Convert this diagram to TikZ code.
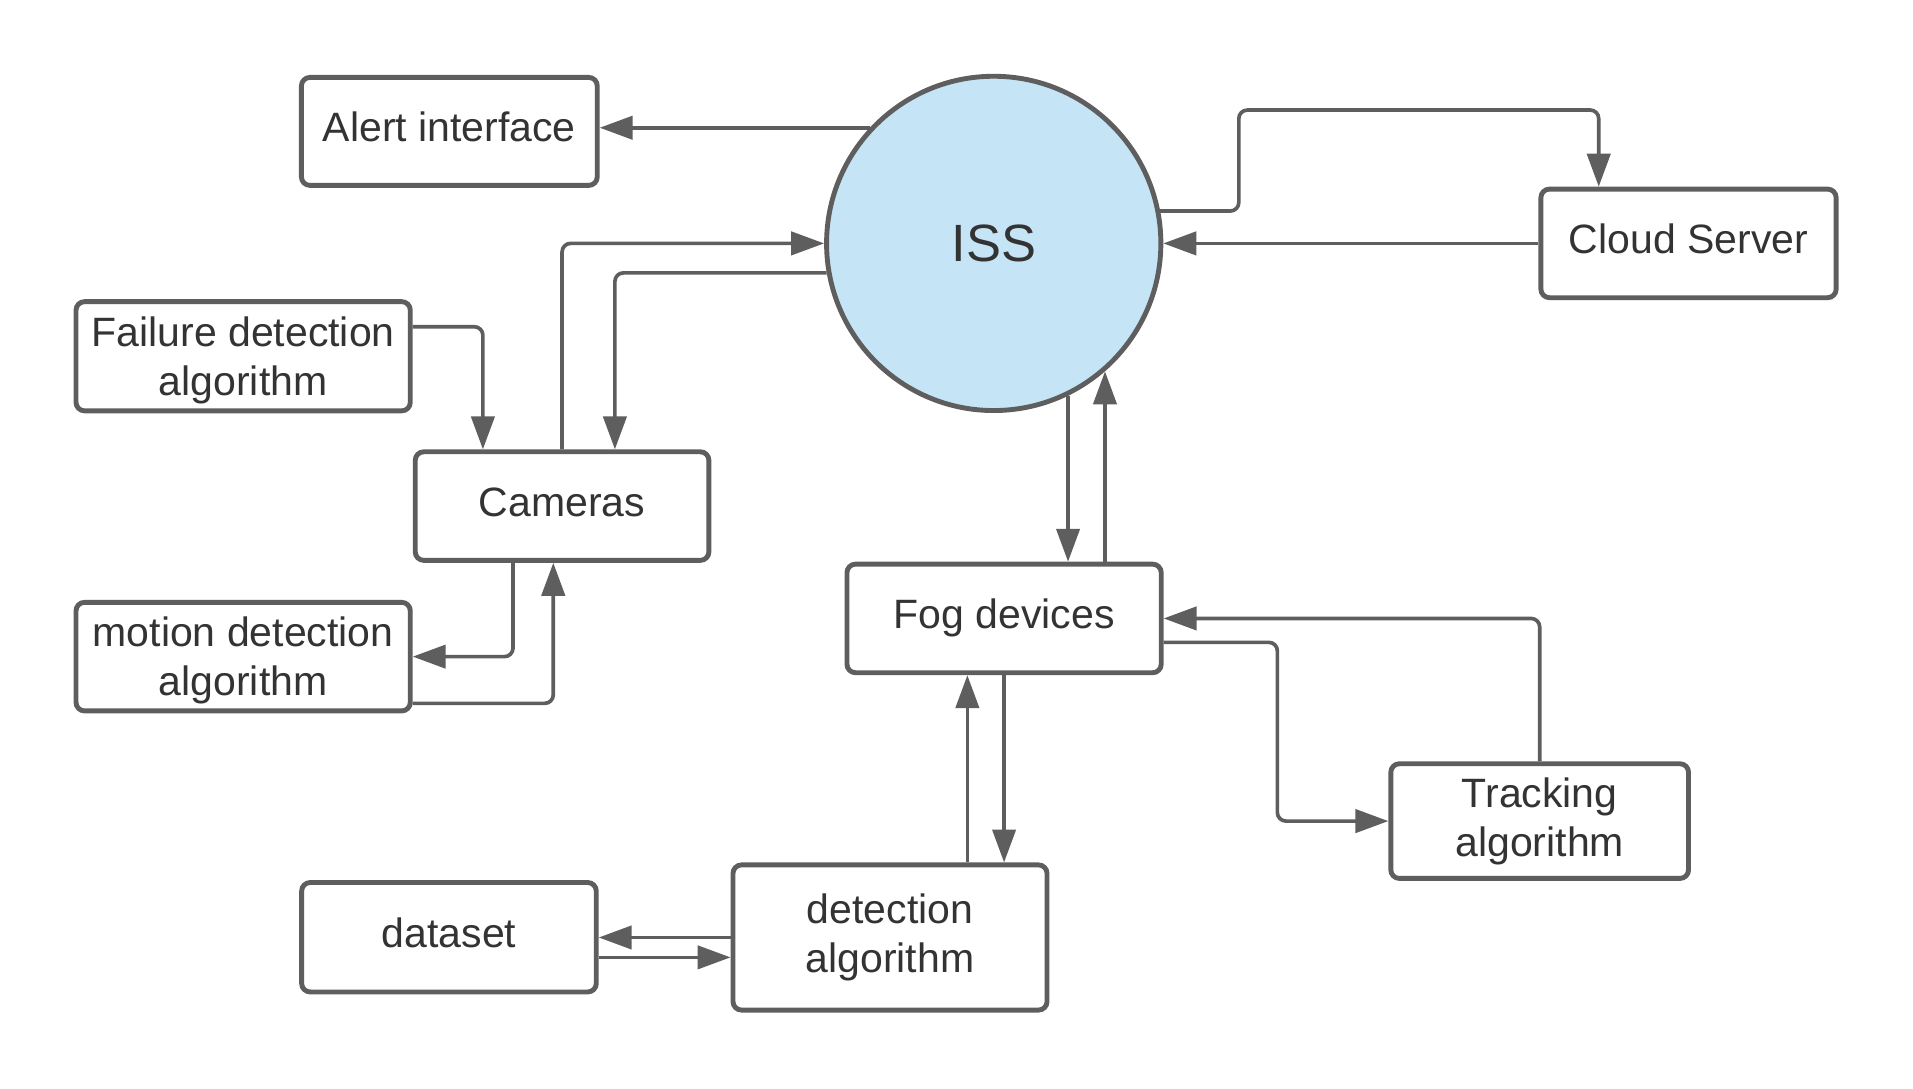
\documentclass[tikz,border=0pt]{standalone}
\usepackage{fontspec}
\setmainfont{Liberation Sans}
\usetikzlibrary{arrows.meta}
\definecolor{ln}{HTML}{5E5E5E}
\definecolor{tx}{HTML}{333333}
\definecolor{issblue}{RGB}{197,228,246}
\begin{document}
\begin{tikzpicture}[x=1pt,y=-1pt,
  box/.style={draw=ln, line width=4pt, rounded corners=7pt, fill=white, inner sep=0pt,
    align=center, text=tx, font=\fontsize{33.6}{40}\selectfont},
  oneline/.style={text height=24pt, text depth=7pt},
  arr/.style={draw=ln, line width=3pt, -{Triangle[length=27pt,width=19pt]}, rounded corners=7pt},
]
\fill[white] (0,0) rectangle (1568,892);
\useasboundingbox (0,0) rectangle (1568,892);

\node[circle, draw=ln, line width=4pt, fill=issblue, minimum size=274pt, inner sep=0pt,
  text=tx, font=\fontsize{43}{50}\selectfont] (iss) at (814.5,199.5) {ISS};

\node[box, oneline, minimum width=242.5pt, minimum height=88.5pt] (alert) at (368.3,107.7) {Alert interface};
\node[box, oneline, minimum width=242pt, minimum height=89pt] (cloud) at (1384,199.5) {Cloud Server};
\node[box, minimum width=274pt, minimum height=89.5pt] (fail) at (199.3,292) {\rule{0pt}{31pt}Failure detection\\algorithm};
\node[box, oneline, minimum width=240.7pt, minimum height=89pt] (cam) at (460.7,414.8) {Cameras};
\node[box, minimum width=274pt, minimum height=89pt] (motion) at (199.3,538.2) {\rule{0pt}{31pt}motion detection\\algorithm};
\node[box, oneline, minimum width=257.6pt, minimum height=89pt] (fog) at (823,506.9) {Fog devices};
\node[box, minimum width=244pt, minimum height=94pt] (track) at (1262,673) {Tracking\\algorithm};
\node[box, oneline, minimum width=241.5pt, minimum height=89.7pt] (data) at (368,768.2) {dataset};
\node[box, minimum width=257.4pt, minimum height=119pt] (det) at (729.5,768.4) {detection\\algorithm};

% ISS <-> left side
\draw[arr] (iss.137.7) -- (iss.137.7 -| alert.east);
\draw[arr] (cam.north) |- (iss.west);
\coordinate (camin) at ([xshift=43.3pt]cam.north);
\draw[arr] (iss.190.5) -| (camin);
\coordinate (camf) at ([xshift=-64.9pt]cam.north);
\coordinate (failout) at ([yshift=24.2pt]fail.east);
\draw[arr] (failout) -| (camf);
\coordinate (camout) at ([xshift=-40.2pt]cam.south);
\draw[arr] (camout) |- (motion.east);
\coordinate (motout) at ([yshift=-38.3pt]motion.east);
\coordinate (camin2) at ([xshift=-7.2pt]cam.south);
\draw[arr] (motout) -| (camin2);

% ISS <-> cloud
\coordinate (up) at (1015.4,90.2);
\coordinate (cloudin) at ([xshift=-73.6pt]cloud.north);
\draw[arr] (iss.11.4) -| (up) -| (cloudin);
\draw[arr] (cloud.west) -- (iss.east);

% ISS <-> fog
\draw[arr] (iss.296.9) -- (iss.296.9 |- fog.north);
\draw[arr] (iss.311.3 |- fog.north) -- (iss.311.3);

% fog <-> tracking
\draw[arr] (track.north) |- (fog.east);
\coordinate (fogout) at ([yshift=-19.6pt]fog.east);
\coordinate (bend) at (1047,600);
\draw[arr] (fogout) -| (bend) |- (track.west);

% fog <-> detection
\coordinate (fogin) at ([xshift=-30.1pt]fog.south);
\draw[arr] (fogin |- det.north) -- (fogin);
\draw[arr] (fog.south) -- (fog.south |- det.north);

% detection <-> dataset
\draw[arr] (det.west) -- (det.west -| data.east);
\coordinate (dataout) at ([yshift=-16.5pt]data.east);
\draw[arr] (dataout) -- (dataout -| det.west);
\end{tikzpicture}
\end{document}
